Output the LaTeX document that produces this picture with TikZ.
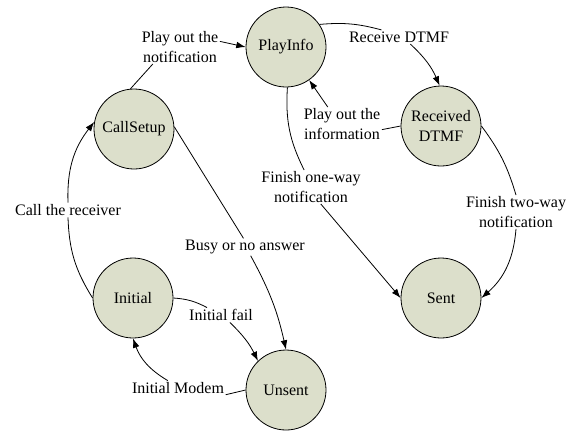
\documentclass[tikz,border=0pt]{standalone}
\usepackage{fontspec}
\setmainfont{Liberation Serif}
\usetikzlibrary{arrows.meta}

\definecolor{statofill}{RGB}{220,223,203}

\tikzset{
    stato/.style={circle, draw, fill=statofill, minimum size=60pt, inner sep=0pt, align=center},
    etich/.style={inner sep=1pt, align=center},
    freccia/.style={-{Latex[length=7pt,width=5pt]}},
}

\begin{document}
\begin{tikzpicture}[x=0.75pt, y=-0.75pt, font=\fontsize{12}{14.4}\selectfont, line width=0.6pt]
    \useasboundingbox (0,0) rectangle (574,430);

    % Stati
    \node[stato] (callsetup) at (134,129) {CallSetup};
    \node[stato] (playinfo) at (286,47) {PlayInfo};
    \node[stato] (received) at (441,126) {Received\\DTMF};
    \node[stato] (sent) at (441,298) {Sent};
    \node[stato] (initial) at (133,298) {Initial};
    \node[stato] (unsent) at (286,390) {Unsent};

    % Etichette
    \node[etich] (lnotif) at (180,47) {Play out the\\notification};
    \node[etich] (lrecv) at (399,37) {Receive DTMF};
    \node[etich] (linfo) at (342,124) {Play out the\\information};
    \node[etich] (loneway) at (311,187) {Finish one-way\\notification};
    \node[etich] (ltwoway) at (516,212) {Finish two-way\\notification};
    \node[etich] (lcall) at (68,210) {Call the receiver};
    \node[etich] (lbusy) at (245,247) {Busy or no answer};
    \node[etich] (lfail) at (221,315) {Initial fail};
    \node[etich] (lmodem) at (178,388) {Initial Modem};

    % Transizioni
    \draw (callsetup.95) -- (lnotif.212);
    \draw[freccia] (lnotif.8) -- (playinfo.west);

    \draw (playinfo.34) to[bend left=10] (lrecv.158);
    \draw[freccia] (lrecv.-32) to[bend left=12] (received.92);

    \draw (received.west) -- (linfo.-8);
    \draw[freccia] (linfo.130) -- (playinfo.-55);

    \draw (playinfo.-88) to[bend right=15] (loneway.112);
    \draw[freccia] (loneway.-60) -- (sent.west);

    \draw (received.east) to[bend left=10] (ltwoway.north);
    \draw[freccia] (ltwoway.south) to[bend left=22] (sent.east);

    \draw (initial.west) to[bend left=15] (lcall.south);
    \draw[freccia] (lcall.north) to[bend left=20] (callsetup.170);

    \draw (callsetup.3) -- (lbusy.100);
    \draw[freccia] (lbusy.-57) to[bend left=8] (unsent.north);

    \draw (initial.east) to[bend left=12] (lfail.152);
    \draw[freccia] (lfail.-40) to[bend left=10] (unsent.134);

    \draw (unsent.west) -- (lmodem.-8);
    \draw[freccia] (lmodem.144) to[bend left=20] (initial.south);
\end{tikzpicture}
\end{document}
